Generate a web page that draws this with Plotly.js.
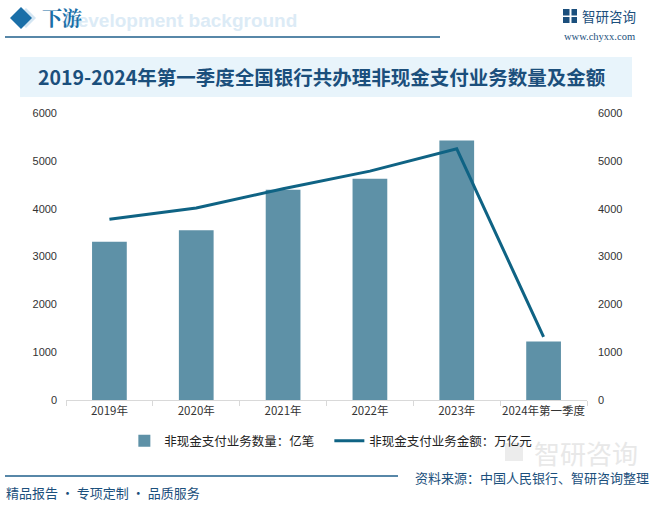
<!DOCTYPE html>
<html><head><meta charset="utf-8">
<script src="https://cdn.plot.ly/plotly-3.0.1.min.js"></script>
<style>html,body{margin:0;padding:0;background:#fff;}#c{width:655px;height:505px;}</style>
</head><body><div id="c"></div>
<script>
const years = ['2019年','2020年','2021年','2022年','2023年','2024年第一季度'];
const countValues = [3310, 3547, 4395, 4627, 5426, 1225];
const amountValues = [3779, 4013, 4416, 4785, 5251, 1320];
const countName = '非现金支付业务数量：亿笔';
const amountName = '非现金支付业务金额：万亿元';
const yTicks = [0, 1000, 2000, 3000, 4000, 5000, 6000];

const CJK = '"Noto Sans CJK SC", "Noto Sans", sans-serif';
const W = 655, H = 505;
const ML = 66, MR = 68, MT = 113, MB = 105;
const PW = W - ML - MR, PH = H - MT - MB;
const px = x => (x - ML) / PW;          // paper x from pixel
const py = y => (H - MB - y) / PH;      // paper y from pixel

const traces = [
  {type:'bar', x: years, y: countValues, name: countName, marker:{color:'#5e91a7'}, width:0.4, hoverinfo:'y'},
  {type:'scatter', mode:'lines', x: years, y: amountValues, name: amountName, yaxis:'y2', line:{color:'#0f6384', width:3}}
];

const navy = '#1b4f7c';
const layout = {
  width: W, height: H,
  margin: {l:ML, r:MR, t:MT, b:MB, pad:0},
  paper_bgcolor:'rgba(0,0,0,0)', plot_bgcolor:'rgba(0,0,0,0)',
  showlegend: true,
  legend: {orientation:'h', x:0.112, xanchor:'left', y:py(441), yanchor:'middle',
           font:{family:CJK, size:12.5, color:'#222'}, entrywidth:160, entrywidthmode:'pixels',
           itemwidth:30, bgcolor:'rgba(0,0,0,0)', traceorder:'normal'},
  xaxis: {type:'category', showline:true, linecolor:'#d9d9d9', linewidth:1, ticks:'outside', tickson:'boundaries',
          ticklen:5, tickcolor:'#d9d9d9', tickangle:0, tickfont:{family:CJK, size:11.5, color:'#333'}, showgrid:false, fixedrange:true},
  yaxis: {range:[0,6000], tickvals:yTicks, showgrid:false, zeroline:false, showline:false, ticks:'',
          ticklabelstandoff:8, tickfont:{family:'"Liberation Sans", Arial, sans-serif', size:11, color:'#333'}},
  yaxis2: {range:[0,6000], tickvals:yTicks, overlaying:'y', side:'right', showgrid:false, zeroline:false, showline:false, ticks:'',
           ticklabelstandoff:10, tickfont:{family:'"Liberation Sans", Arial, sans-serif', size:11, color:'#333'}},
  shapes: [
    {type:'path', xref:'paper', yref:'paper', path:`M ${px(26)} ${py(8)} L ${px(36)} ${py(18)} L ${px(26)} ${py(28)} L ${px(16)} ${py(18)} Z`, fillcolor:'#d4e6f3', line:{width:0}},
    {type:'path', xref:'paper', yref:'paper', path:`M ${px(21)} ${py(7)} L ${px(32)} ${py(18)} L ${px(21)} ${py(29)} L ${px(10)} ${py(18)} Z`, fillcolor:'#1a6fa8', line:{width:0}},
    {type:'line', xref:'paper', yref:'paper', x0:px(5), x1:px(440), y0:py(37), y1:py(37), line:{color:'#1f5f8b', width:1.5}},
    {type:'rect', xref:'paper', yref:'paper', x0:px(563), x1:px(577), y0:py(9), y1:py(23), fillcolor:'#1b4f7c', line:{width:0}},
    {type:'rect', xref:'paper', yref:'paper', x0:px(569.5), x1:px(571.5), y0:py(9), y1:py(23), fillcolor:'#ffffff', line:{width:0}},
    {type:'rect', xref:'paper', yref:'paper', x0:px(563), x1:px(577), y0:py(15.5), y1:py(17), fillcolor:'#ffffff', line:{width:0}},
    {type:'rect', xref:'paper', yref:'paper', x0:px(20), x1:px(632), y0:py(57), y1:py(97), fillcolor:'#e8f4fb', line:{width:0}, layer:'below'},
    {type:'line', xref:'paper', yref:'paper', x0:px(5), x1:px(398), y0:py(476), y1:py(476), line:{color:'#1f5f8b', width:1.5}},
    {type:'rect', xref:'paper', yref:'paper', x0:px(505), x1:px(523), y0:py(443), y1:py(461), fillcolor:'#ececec', line:{width:0}, layer:'below'}
  ],
  annotations: [
    {xref:'paper', yref:'paper', x:px(62), y:py(20), xanchor:'left', yanchor:'middle', showarrow:false,
     text:'<b>Development background</b>', font:{family:'"Liberation Sans", Arial, sans-serif', size:19, color:'#dcebf6'}},
    {xref:'paper', yref:'paper', x:px(40), y:py(17), xanchor:'left', yanchor:'middle', showarrow:false,
     text:'<b>下游</b>', font:{family:'"Noto Serif CJK SC", "Noto Sans CJK SC", serif', size:20, color:'#1a6fa8'}},
    {xref:'paper', yref:'paper', x:px(580), y:py(16), xanchor:'left', yanchor:'middle', showarrow:false,
     text:'智研咨询', font:{family:CJK, size:13.5, color:navy}},
    {xref:'paper', yref:'paper', x:px(562), y:py(36), xanchor:'left', yanchor:'middle', showarrow:false,
     text:'www.chyxx.com', font:{family:'"Liberation Serif", "DejaVu Serif", serif', size:10.5, color:navy}},
    {xref:'paper', yref:'paper', x:px(322), y:py(77), xanchor:'center', yanchor:'middle', showarrow:false,
     text:'<b>2019-2024年第一季度全国银行共办理非现金支付业务数量及金额</b>', font:{family:CJK, size:19.5, color:navy}},
    {xref:'paper', yref:'paper', x:px(640), y:py(452), xanchor:'right', yanchor:'middle', showarrow:false,
     text:'智研咨询', font:{family:CJK, size:26, color:'#e8e8e8'}},
    {xref:'paper', yref:'paper', x:px(651), y:py(477), xanchor:'right', yanchor:'middle', showarrow:false,
     text:'资料来源：中国人民银行、智研咨询整理', font:{family:CJK, size:13, color:navy}},
    {xref:'paper', yref:'paper', x:px(4), y:py(492), xanchor:'left', yanchor:'middle', showarrow:false,
     text:'精品报告 · 专项定制 · 品质服务', font:{family:CJK, size:13, color:navy}}
  ]
};

Plotly.newPlot('c', traces, layout, {staticPlot:true, displayModeBar:false});
</script></body></html>
